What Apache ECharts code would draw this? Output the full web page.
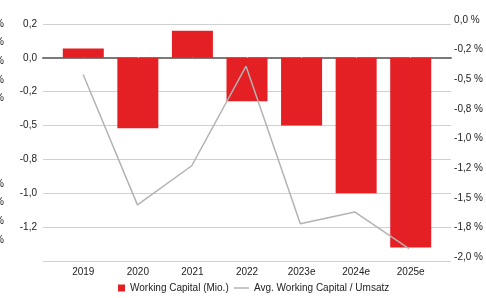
<!DOCTYPE html>
<html>
<head>
<meta charset="utf-8">
<script src="https://cdn.jsdelivr.net/npm/echarts@6/dist/echarts.min.js"></script>
<style>
  html, body { margin: 0; padding: 0; background: #fff; }
  #chart { width: 486px; height: 298px; }
</style>
</head>
<body>
<div id="chart"></div>
<script>
// Daten
var categories = ['2019', '2020', '2021', '2022', '2023e', '2024e', '2025e']
var workingCapital = [0.07, -0.52, 0.2, -0.32, -0.5, -1.0, -1.4]
var avgWorkingCapital = [-0.46, -1.56, -1.23, -0.39, -1.72, -1.62, -1.93]
var leftTickLabels = ['0,2', '0,0', '-0,2', '-0,5', '-0,8', '-1,0', '-1,2', '']
var rightTickLabels = ['0,0 %', '-0,2 %', '-0,5 %', '-0,8 %', '-1,0 %', '-1,2 %', '-1,5 %', '-1,8 %', '-2,0 %']
var seriesNames = ['Working Capital (Mio.)', 'Avg. Working Capital / Umsatz']

var font = 'Liberation Sans, Arial, sans-serif'
var textColor = '#222'
var red = '#e42024'
var grey = '#b3b3b3'

// abgeschnittene Prozentzeichen am linken Rand (Nachbargrafik)
var strayY = [25, 43, 62, 81, 99, 185, 203, 222, 241]
var stray = strayY.map(function (y) {
  return {
    type: 'text', left: -5, top: y - 6,
    style: { text: '%', font: '10px ' + font, fill: textColor }
  }
})

var chart = echarts.init(document.getElementById('chart'))
chart.setOption({
  animation: false,
  textStyle: { fontFamily: font },
  graphic: stray,
  legend: [{
    data: [seriesNames[0]],
    left: 113, top: 278,
    itemWidth: 7, itemHeight: 7,
    icon: 'rect',
    textStyle: { fontSize: 10, color: textColor, fontFamily: font }
  }, {
    data: [{ name: seriesNames[1], icon: 'path://M0,0H15V1.5H0Z' }],
    left: 229, top: 278,
    itemWidth: 15, itemHeight: 1.5,
    itemStyle: { color: grey },
    textStyle: { fontSize: 10, color: textColor, fontFamily: font }
  }],
  grid: [
    { left: 43, right: 35, top: 24, height: 237 },   // Gitternetz
    { left: 56, right: 48, top: 24, height: 237 },   // Balken
    { left: 56, right: 48, top: 20, height: 237 }    // Linie / rechte Achse
  ],
  xAxis: [{
    gridIndex: 0, type: 'category', data: categories,
    axisLine: { show: true, lineStyle: { color: '#7a7a7a', width: 2 } },
    axisTick: { show: false }, axisLabel: { show: false }
  }, {
    gridIndex: 1, type: 'category', data: categories,
    axisLine: { show: false },
    axisTick: { show: true, alignWithLabel: true, inside: true, length: 2, lineStyle: { color: '#fff', width: 1 } },
    axisLabel: { fontSize: 10, color: textColor, margin: 6 }
  }, {
    gridIndex: 2, type: 'category', data: categories,
    show: false
  }],
  yAxis: [{
    gridIndex: 0, type: 'value', min: -1.5, max: 0.25, interval: 0.25,
    axisLine: { show: false }, axisTick: { show: false },
    splitLine: { lineStyle: { color: '#d0d0d0', width: 1 } },
    axisLabel: {
      fontSize: 10, color: textColor, margin: 6,
      formatter: function (v) { return leftTickLabels[Math.round((0.25 - v) / 0.25)] }
    }
  }, {
    gridIndex: 1, type: 'value', min: -1.5, max: 0.25, interval: 0.25,
    show: false, splitLine: { show: false }
  }, {
    gridIndex: 2, type: 'value', position: 'right', min: -2, max: 0, interval: 0.25,
    offset: 13,
    axisLine: { show: false }, axisTick: { show: false }, splitLine: { show: false },
    axisLabel: {
      fontSize: 10, color: textColor, margin: 5,
      formatter: function (v) { return rightTickLabels[Math.round(-v / 0.25)] }
    }
  }],
  series: [{
    name: seriesNames[0], type: 'bar',
    xAxisIndex: 1, yAxisIndex: 1,
    data: workingCapital, barWidth: 41,
    itemStyle: { color: red }
  }, {
    name: seriesNames[1], type: 'line',
    xAxisIndex: 2, yAxisIndex: 2,
    data: avgWorkingCapital,
    symbol: 'none',
    lineStyle: { color: grey, width: 1.5 },
    itemStyle: { color: grey }
  }]
})
</script>
</body>
</html>
